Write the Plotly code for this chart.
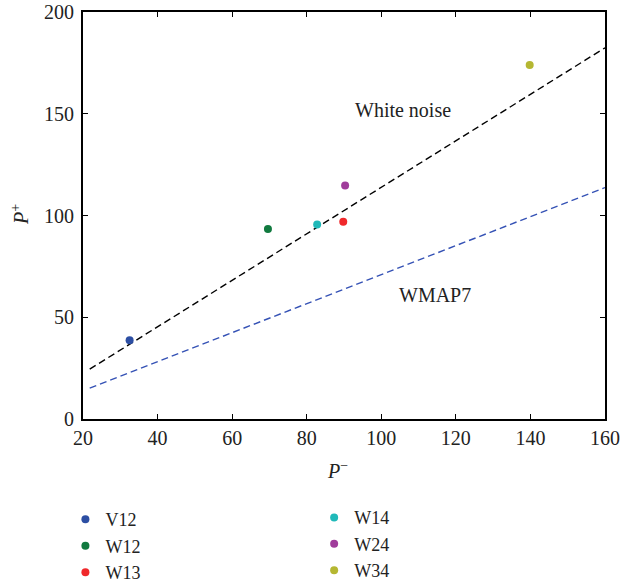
import plotly.graph_objects as go

# Measured channel pairs (P-, P+)
bands = ["V12", "W12", "W13", "W14", "W24", "W34"]
p_minus = [32.5, 69.6, 89.8, 82.8, 90.3, 139.8]
p_plus = [38.7, 93.4, 96.9, 95.6, 114.8, 173.9]
colors = ["#2c4ea3", "#117a3f", "#f0282b", "#20b9b9", "#a03c9b", "#b5b732"]

# Reference expectations
ref_x = [21.8, 160]
white_noise_y = [24.5, 182.4]
wmap7_y = [15.2, 113.7]

FONT = "Liberation Serif"
TXT = "#222"

fig = go.Figure()

fig.add_trace(go.Scatter(x=ref_x, y=white_noise_y, mode="lines",
                         line=dict(color="black", width=1.4, dash="7px,4px"),
                         showlegend=False, hoverinfo="skip"))
fig.add_trace(go.Scatter(x=ref_x, y=wmap7_y, mode="lines",
                         line=dict(color="#3552b5", width=1.4, dash="7px,4px"),
                         showlegend=False, hoverinfo="skip"))

for i, (name, px, py, c) in enumerate(zip(bands, p_minus, p_plus, colors)):
    fig.add_trace(go.Scatter(x=[px], y=[py], mode="markers", name=name,
                             marker=dict(color=c, size=8),
                             legend="legend" if i < 3 else "legend2"))

fig.add_annotation(x=105.8, y=151.8, text="White noise", showarrow=False,
                   font=dict(family=FONT, size=20, color=TXT))
fig.add_annotation(x=114.4, y=60.8, text="WMAP7", showarrow=False,
                   font=dict(family=FONT, size=20, color=TXT))

# Axis titles
fig.add_annotation(xref="paper", yref="paper", x=0.4885, y=0, yshift=-51,
                   yanchor="middle", text="<i>P</i><sup>−</sup>", showarrow=False,
                   font=dict(family=FONT, size=20, color=TXT))
fig.add_annotation(xref="paper", yref="paper", x=0, xshift=-63, y=0.501,
                   xanchor="center", text="<i>P</i><sup>+</sup>", showarrow=False,
                   textangle=-90, font=dict(family=FONT, size=20, color=TXT))

axis_common = dict(showline=True, linecolor="black", linewidth=2, mirror="ticks",
                   ticks="inside", ticklen=5, tickwidth=1.2, tickcolor="black",
                   showgrid=False, zeroline=False, automargin=False,
                   tickfont=dict(family=FONT, size=20, color=TXT))

fig.update_xaxes(range=[20, 160], tickvals=[20, 40, 60, 80, 100, 120, 140, 160],
                 **axis_common)
fig.update_yaxes(range=[0, 200], tickvals=[0, 50, 100, 150, 200],
                 ticklabelstandoff=3, **axis_common)

legend_common = dict(font=dict(family=FONT, size=18, color=TXT),
                     bgcolor="rgba(0,0,0,0)", itemwidth=30,
                     xanchor="left", yanchor="top", tracegroupgap=0)

fig.update_layout(
    width=629, height=583,
    margin=dict(l=83, r=24, t=12, b=164, autoexpand=False),
    plot_bgcolor="white", paper_bgcolor="white",
    legend=dict(x=-0.0337, y=-0.2019, **legend_common),
    legend2=dict(x=0.4428, y=-0.1970, **legend_common),
)

fig.write_html("out.html")
